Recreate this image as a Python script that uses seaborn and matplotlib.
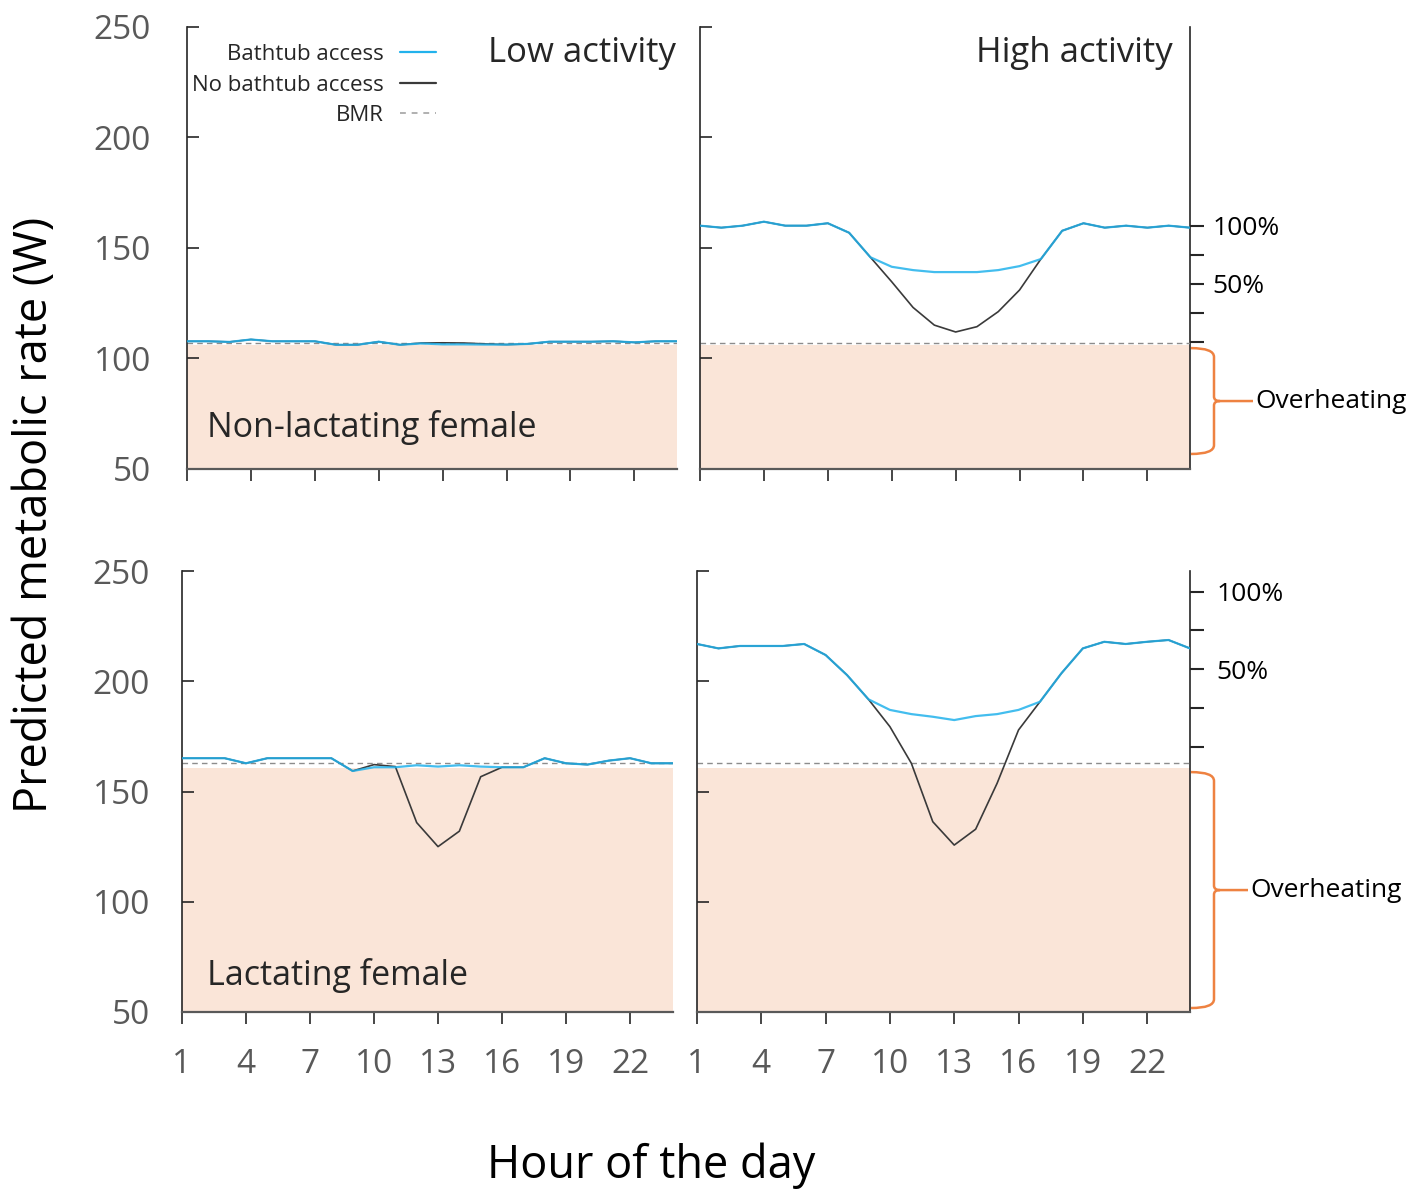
import numpy as np
import pandas as pd
import matplotlib
matplotlib.use("Agg")
import matplotlib.pyplot as plt
import seaborn as sns
from matplotlib.path import Path
from matplotlib.patches import PathPatch
from matplotlib.lines import Line2D
import matplotlib.transforms as mtransforms

# ---------------- data ----------------
hours = list(range(1, 25))

nonlact_low_bath = [107.8, 107.8, 107.5, 108.6, 107.8, 107.8, 107.8, 106.2, 106.2, 107.6, 106.2, 106.8,
                    106.4, 106.4, 106.3, 106.3, 106.6, 107.6, 107.6, 107.6, 107.8, 107.3, 107.8, 107.8]
nonlact_low_nobath = [107.8, 107.8, 107.5, 108.6, 107.8, 107.8, 107.8, 106.2, 106.2, 107.6, 106.2, 107.0,
                      107.1, 107.0, 106.6, 106.3, 106.6, 107.6, 107.6, 107.6, 107.8, 107.3, 107.8, 107.8]

nonlact_high_bath = [160.1, 159.2, 160.1, 161.9, 160.1, 160.1, 161.2, 156.9, 145.8, 141.5, 140.0, 139.1,
                     139.1, 139.1, 140.0, 141.8, 145.0, 157.8, 161.2, 159.2, 160.1, 159.2, 160.1, 159.2]
nonlact_high_nobath = [160.1, 159.2, 160.1, 161.9, 160.1, 160.1, 161.2, 156.9, 145.8, 134.7, 123.1, 115.1,
                       112.0, 114.4, 121.2, 131.0, 145.0, 157.8, 161.2, 159.2, 160.1, 159.2, 160.1, 159.2]

lact_low_bath = [165.1, 165.1, 165.1, 162.8, 165.1, 165.1, 165.1, 165.1, 159.3, 161.0, 161.0, 161.9,
                 161.3, 161.9, 161.3, 161.0, 161.0, 165.1, 162.8, 162.2, 164.0, 165.1, 162.8, 162.8]
lact_low_nobath = [165.1, 165.1, 165.1, 162.8, 165.1, 165.1, 165.1, 165.1, 159.3, 162.2, 161.3, 135.9,
                   125.0, 132.0, 156.7, 161.0, 161.0, 165.1, 162.8, 162.2, 164.0, 165.1, 162.8, 162.8]

lact_high_bath = [216.9, 214.9, 216.0, 216.0, 216.0, 216.9, 211.9, 202.8, 191.8, 187.0, 185.1, 183.9,
                  182.4, 184.2, 185.1, 187.0, 190.7, 203.6, 214.9, 217.9, 216.9, 217.9, 218.7, 214.9]
lact_high_nobath = [216.9, 214.9, 216.0, 216.0, 216.0, 216.9, 211.9, 202.8, 191.8, 179.4, 162.8, 136.3,
                    125.7, 132.9, 153.7, 177.9, 190.7, 203.6, 214.9, 217.9, 216.9, 217.9, 218.7, 214.9]

females = ["Non-lactating female", "Lactating female"]
activities = ["Low activity", "High activity"]
bmr_values = [107.0, 162.8]             # BMR per female type
overheat_limit = [106.0, 160.8]         # upper edge of overheating zone
pct_zero = [107.5, 170.3]               # W at 0 % of activity scope
pct_full = [160.0, 240.6]               # W at 100 % of activity scope
pct_ticks = [0, 25, 50, 75, 100]
pct_labels = ["", "", "50%", "", "100%"]
x_ticks = list(range(1, 25, 3))
y_ticks = [50, 100, 150, 200, 250]

series = {
    ("Non-lactating female", "Low activity"): (nonlact_low_bath, nonlact_low_nobath),
    ("Non-lactating female", "High activity"): (nonlact_high_bath, nonlact_high_nobath),
    ("Lactating female", "Low activity"): (lact_low_bath, lact_low_nobath),
    ("Lactating female", "High activity"): (lact_high_bath, lact_high_nobath),
}
rows = []
for (fem, act), (bath, nobath) in series.items():
    for h, b, n in zip(hours, bath, nobath):
        rows.append(dict(female=fem, activity=act, hour=h, access="Bathtub access", rate=b))
        rows.append(dict(female=fem, activity=act, hour=h, access="No bathtub access", rate=n))
df = pd.DataFrame(rows)

# ---------------- style ----------------
sns.set_style("ticks")
plt.rcParams['font.family'] = ['Open Sans', 'DejaVu Sans']

BLUE = "#22B2EC"
BLACK = "#3a3a3a"
SHADE = "#FAE5D8"
ORANGE = "#EE8241"
GRAY_TXT = "#595959"

W, H = 1416, 1193
fig = plt.figure(figsize=(W / 100, H / 100), dpi=100)

def rect(x0, x1, y0, y1):
    return [x0 / W, 1 - y1 / H, (x1 - x0) / W, (y1 - y0) / H]

rects = {
    (0, 0): rect(187, 677, 27, 469),
    (0, 1): rect(700, 1190, 27, 469),
    (1, 0): rect(182, 672.7, 571, 1012),
    (1, 1): rect(697, 1190, 571, 1012),
}
ylab_pad = {0: 26, 1: 23}

def brace(ax, y_top, y_bot, label, text_px):
    tr = mtransforms.blended_transform_factory(ax.transAxes, ax.transData)
    wpx = ax.get_position().width * W
    f = lambda px: 1 + px / wpx
    y_mid = (y_top + y_bot) / 2
    r, rm = 4.0, 2.0
    x0, x1, xc, xe = f(1), f(24), f(30), f(text_px - 2)
    verts = [(x0, y_top), (x1, y_top), (x1, y_top - r),
             (x1, y_mid + rm), (x1, y_mid), (xc, y_mid),
             (x1, y_mid), (x1, y_mid - rm),
             (x1, y_bot + r), (x1, y_bot), (x0, y_bot),
             (xc, y_mid), (xe, y_mid)]
    codes = [Path.MOVETO, Path.CURVE3, Path.CURVE3,
             Path.LINETO, Path.CURVE3, Path.CURVE3,
             Path.CURVE3, Path.CURVE3,
             Path.LINETO, Path.CURVE3, Path.CURVE3,
             Path.MOVETO, Path.LINETO]
    patch = PathPatch(Path(verts, codes), transform=tr, facecolor="none",
                      edgecolor=ORANGE, lw=1.8, clip_on=False)
    ax.add_patch(patch)
    ax.text(f(text_px), y_mid, label, transform=tr, ha="left", va="center",
            fontsize=19, color="black", clip_on=False)

for (ri, ci), rc in rects.items():
    fem, act = females[ri], activities[ci]
    ax = fig.add_axes(rc)
    sub = df[(df.female == fem) & (df.activity == act)]
    ax.axhspan(50, overheat_limit[ri], facecolor=SHADE, edgecolor="none", zorder=0)
    ax.axhline(bmr_values[ri], color="#8c8c8c", lw=1.0, ls=(0, (4, 3)), zorder=1)
    sns.lineplot(data=sub[sub.access == "No bathtub access"], x="hour", y="rate",
                 color=BLACK, lw=1.2, ax=ax, zorder=2)
    sns.lineplot(data=sub[sub.access == "Bathtub access"], x="hour", y="rate",
                 color=BLUE, lw=1.6, alpha=0.85, ax=ax, zorder=3)
    ax.set_xlim(1, 24)
    ax.set_ylim(50, 250)
    ax.set_xticks(x_ticks)
    ax.set_yticks(y_ticks)
    ax.set_xlabel("")
    ax.set_ylabel("")
    ax.spines["top"].set_visible(False)
    ax.spines["right"].set_visible(False)
    ax.spines["left"].set_color("#262626")
    ax.spines["left"].set_linewidth(1.2)
    ax.spines["bottom"].set_color(GRAY_TXT)
    ax.spines["bottom"].set_linewidth(1.6)
    ax.tick_params(axis="y", direction="in", length=8.5, width=1.2, color="#262626",
                   labelsize=24, labelcolor=GRAY_TXT, pad=ylab_pad[ri], labelleft=(ci == 0))
    ax.tick_params(axis="x", direction="out", length=8.5, width=1.2, color="#262626",
                   labelsize=24, labelcolor=GRAY_TXT, pad=17.5, labelbottom=(ri == 1))

    # panel titles
    if ri == 0:
        xt = 0.998 if ci == 0 else 0.965
        ax.text(xt, 0.942, act, transform=ax.transAxes, ha="right", va="center", fontsize=25)
    if ci == 0:
        ypos = 0.093 if ri == 0 else 0.082
        xpos = 0.041 if ri == 0 else 0.051
        ax.text(xpos, ypos, fem, transform=ax.transAxes, ha="left", va="center", fontsize=24.5)

    # right-hand activity scope axis
    if ci == 1:
        z, fu = pct_zero[ri], pct_full[ri]
        sec = ax.secondary_yaxis("right",
                                 functions=(lambda w, z=z, fu=fu: (w - z) / (fu - z) * 100,
                                            lambda p, z=z, fu=fu: z + p / 100 * (fu - z)))
        sec.set_yticks(pct_ticks)
        sec.set_yticklabels(pct_labels)
        sec.tick_params(direction="out", length=10, width=1.5, color="#262626",
                        labelsize=19, labelcolor="black", pad=6 if ri == 0 else 9)
        sec.spines["right"].set_color("#262626")
        sec.spines["right"].set_linewidth(1.2)
        if ri == 0:
            brace(ax, 104.7, 56.8, "Overheating", 65)
        else:
            brace(ax, 158.8, 51.8, "Overheating", 60)

    if ri == 0 and ci == 0:
        handles = [Line2D([], [], color=BLUE, lw=1.6),
                   Line2D([], [], color=BLACK, lw=1.6),
                   Line2D([], [], color="#b0b0b0", lw=1.4, ls=(0, (3, 3)))]
        labels = ["Bathtub access", "No bathtub access", "BMR"]
        ax.legend(handles, labels, loc="upper right", bbox_to_anchor=(0.508, 0.961),
                  frameon=False, markerfirst=False, fontsize=16, handlelength=1.6,
                  handletextpad=0.77, labelspacing=0.42, borderpad=0, borderaxespad=0)

fig.text(35 / W, 1 - 515 / H, "Predicted metabolic rate (W)", rotation=90,
         ha="center", va="center", fontsize=32.5, color="black")
fig.text(651 / W, 1 - 1166 / H, "Hour of the day", ha="center", va="center",
         fontsize=32.5, color="black")

fig.savefig("out.png", dpi=100)
